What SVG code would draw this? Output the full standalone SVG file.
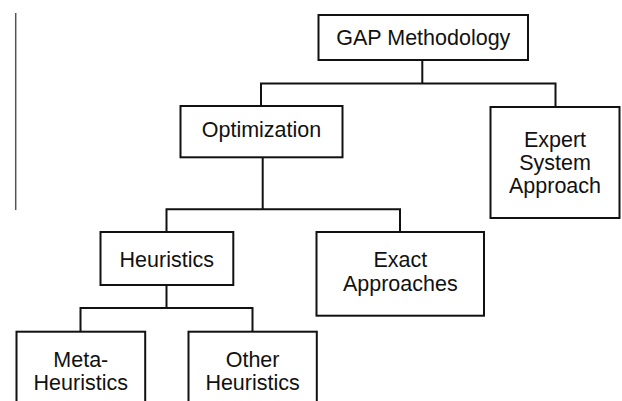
<svg xmlns="http://www.w3.org/2000/svg" width="622" height="401" viewBox="0 0 622 401">
<style>
.box{fill:#fff;stroke:#111;stroke-width:2}
.lbl{font-family:"Liberation Sans",Arial,sans-serif;font-size:21.5px;fill:#111;text-anchor:middle}
.con{fill:none;stroke:#111;stroke-width:2}
</style>
<rect width="622" height="401" fill="#fff"/>
<line x1="15.7" y1="13" x2="15.7" y2="210" stroke="#555" stroke-width="1.5"/>
<g id="connectors">
<path class="con" d="M422.3,60V83.5M261,106V83.5H555.5V107"/>
<path class="con" d="M262.7,157.3V209.3M166.5,232V209.3H400V232"/>
<path class="con" d="M166.5,285V308M80.5,331.7V308H252.5V331.7"/>
</g>
<g id="gap"><rect class="box" x="318.5" y="15" width="209.5" height="45"/><text class="lbl" x="423.3" y="45">GAP Methodology</text></g>
<g id="opt"><rect class="box" x="180.5" y="106" width="162" height="51.3"/><text class="lbl" x="261.5" y="137.3">Optimization</text></g>
<g id="expert"><rect class="box" x="490.5" y="107" width="129" height="111"/><text class="lbl" x="555" y="146.7">Expert</text><text class="lbl" x="555" y="170">System</text><text class="lbl" x="555" y="193.3">Approach</text></g>
<g id="heur"><rect class="box" x="100.5" y="232" width="132.8" height="53"/><text class="lbl" x="166.8" y="266.7">Heuristics</text></g>
<g id="exact"><rect class="box" x="316.5" y="232" width="167.5" height="83.7"/><text class="lbl" x="400.3" y="267">Exact</text><text class="lbl" x="400.3" y="291.3">Approaches</text></g>
<g id="meta"><rect class="box" x="16.5" y="331.7" width="128.7" height="90"/><text class="lbl" x="80.8" y="366.7">Meta-</text><text class="lbl" x="80.8" y="390">Heuristics</text></g>
<g id="other"><rect class="box" x="188.5" y="331.7" width="128.3" height="90"/><text class="lbl" x="252.6" y="366.7">Other</text><text class="lbl" x="252.6" y="390">Heuristics</text></g>
</svg>
